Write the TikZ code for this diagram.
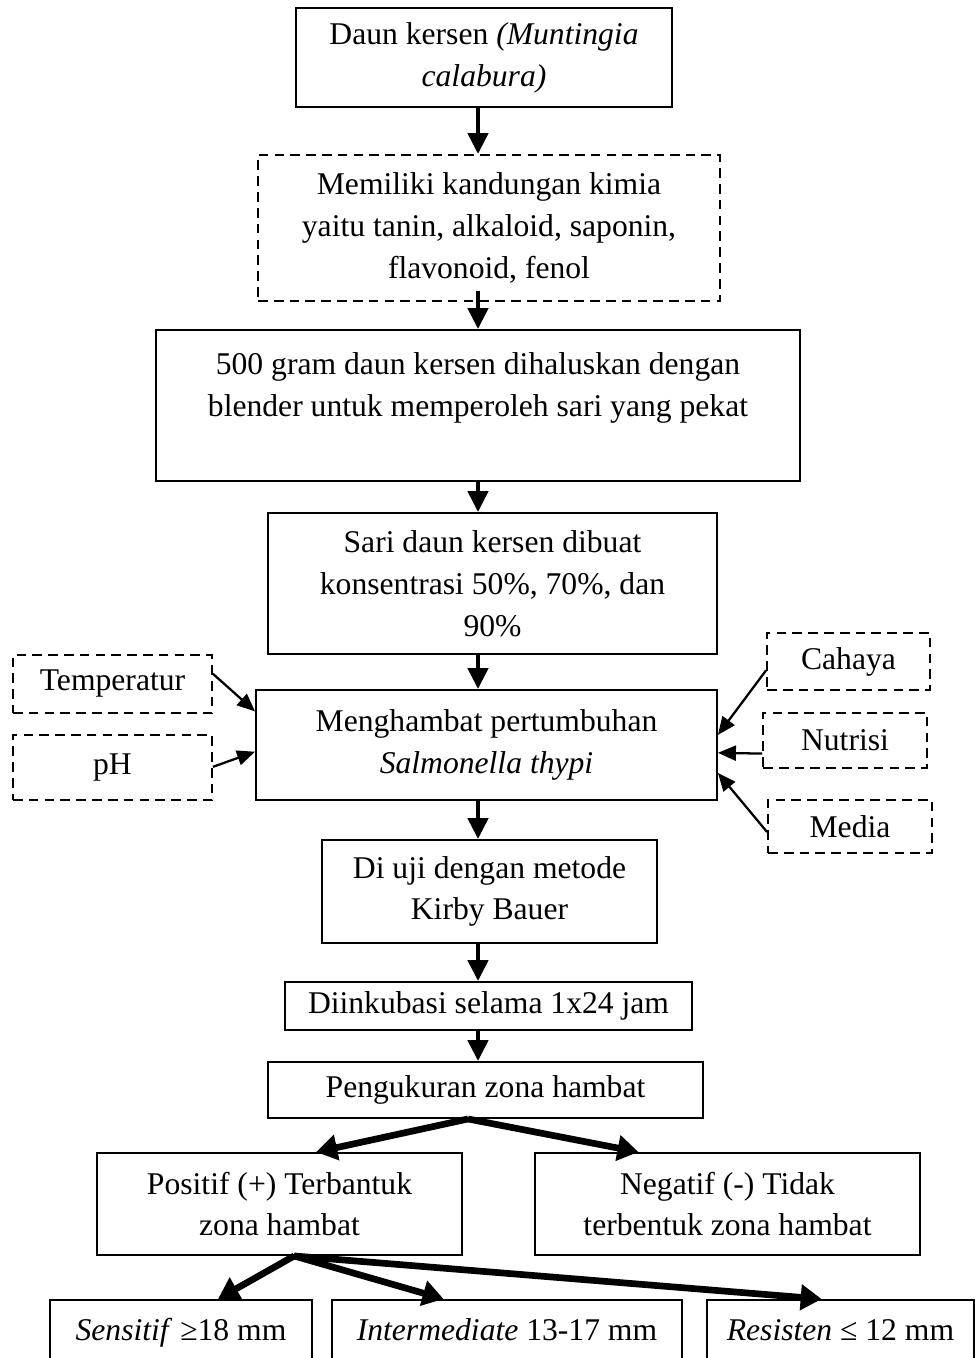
\documentclass[tikz,border=0pt]{standalone}
\usepackage{fontspec}
\setmainfont{Liberation Serif}
\usepackage{tikz}
\usetikzlibrary{shapes,arrows}
\usetikzlibrary{calc}
\usetikzlibrary{arrows.meta}
\tikzset{>=stealth}
\tikzstyle{kotak} = [draw, 
rectangle,
line width=1.1pt,
align=center,
inner sep=0pt]
\tikzstyle{line} = [draw, 
-{Triangle[width=0.4cm,length=0.42cm]}, 
line width=2.6pt]

\begin{document}
\begin{tikzpicture}[x=0.02cm, y=-0.02cm, font=\fontsize{18}{23.8}\selectfont,
	putus/.style={kotak, dash pattern=on 5.5pt off 3.5pt},
	tipis/.style={draw, -{Triangle[width=0.3cm,length=0.36cm]}, line width=1.3pt},
	cabang/.style={line, -{Triangle[width=0.5cm,length=0.42cm]}, line width=3.8pt}]
	\useasboundingbox (0,0) rectangle (974,1358);
	%% Main column
	\node [kotak, minimum width=7.52cm, minimum height=1.98cm] (Daun) at (484,57.5) {\raisebox{-0.1cm}{Daun kersen \textit{(Muntingia}}\\\raisebox{-0.1cm}{\textit{calabura)}}};
	\node [putus, minimum width=9.24cm, minimum height=2.92cm] (Kimia) at (489,228) {Memiliki kandungan kimia\\yaitu tanin, alkaloid, saponin,\\flavonoid, fenol};
	\node [kotak, minimum width=12.88cm, minimum height=3.02cm] (Blender) at (478,405.5) {500 gram daun kersen dihaluskan dengan\\blender untuk memperoleh sari yang pekat\\~};
	\node [kotak, minimum width=8.98cm, minimum height=2.82cm] (Sari) at (492.5,583.5) {Sari daun kersen dibuat\\konsentrasi 50\%, 70\%, dan\\90\%};
	\node [kotak, minimum width=9.22cm, minimum height=2.2cm] (Hambat) at (486.5,745) {Menghambat pertumbuhan\\\textit{Salmonella thypi}};
	\node [kotak, minimum width=6.7cm, minimum height=2.06cm] (Uji) at (489.5,891.5) {Di uji dengan metode\\Kirby Bauer};
	\node [kotak, minimum width=8.14cm, minimum height=0.96cm] (Inkubasi) at (488.5,1006) {\raisebox{-0.16cm}{Diinkubasi selama 1x24 jam}};
	\node [kotak, minimum width=8.7cm, minimum height=1.12cm] (Ukur) at (485.5,1090) {Pengukuran zona hambat};
	%% Factors
	\node [putus, minimum width=3.98cm, minimum height=1.16cm] (Suhu) at (112.5,684) {Temperatur};
	\node [putus, minimum width=3.98cm, minimum height=1.3cm] (PH) at (112.5,767.5) {pH};
	\node [putus, minimum width=3.26cm, minimum height=1.14cm] (Cahaya) at (848.5,661.5) {Cahaya};
	\node [putus, minimum width=3.28cm, minimum height=1.1cm] (Nutrisi) at (845,740.5) {Nutrisi};
	\node [putus, minimum width=3.28cm, minimum height=1.06cm] (Media) at (850,826.5) {Media};
	%% Results
	\node [kotak, minimum width=7.3cm, minimum height=2.04cm] (Positif) at (279.5,1204) {Positif (+) Terbantuk\\zona hambat};
	\node [kotak, minimum width=7.7cm, minimum height=2.04cm] (Negatif) at (727.5,1204) {Negatif (-) Tidak\\terbentuk zona hambat};
	\node [kotak, minimum width=5.24cm, minimum height=1.28cm] (Sensitif) at (181,1332) {\strut\textit{Sensitif} ≥18 mm};
	\node [kotak, minimum width=7cm, minimum height=1.28cm] (Intermediate) at (507,1332) {\strut\textit{Intermediate} 13-17 mm};
	\node [kotak, minimum width=5.34cm, minimum height=1.28cm] (Resisten) at (840.5,1332) {\strut\textit{Resisten} ≤ 12 mm};
	%% Main flow
	\coordinate (poros) at (478,0);
	\path [line] (Daun.south -| poros) -- (Kimia.north -| poros);
	\path [line] ([yshift=0.22cm]Kimia.south -| poros) -- (Blender.north -| poros);
	\path [line] (Blender.south -| poros) -- (Sari.north -| poros);
	\path [line] (Sari.south -| poros) -- (Hambat.north -| poros);
	\path [line] (Hambat.south -| poros) -- (Uji.north -| poros);
	\path [line] (Uji.south -| poros) -- (Inkubasi.north -| poros);
	\path [line] (Inkubasi.south -| poros) -- (Ukur.north -| poros);
	%% Factor arrows
	\path [tipis] ($(Suhu.north east)!0.33!(Suhu.south east)$) -- ($(Hambat.north west)!0.2!(Hambat.south west)$);
	\path [tipis] ($(PH.north east)!0.49!(PH.south east)$) -- ($(Hambat.north west)!0.56!(Hambat.south west)$);
	\path [tipis] ($(Cahaya.north west)!0.65!(Cahaya.south west)$) -- ($(Hambat.north east)!0.41!(Hambat.south east)$);
	\path [tipis] ($(Nutrisi.north west)!0.73!(Nutrisi.south west)$) -- ($(Hambat.north east)!0.57!(Hambat.south east)$);
	\path [tipis] ($(Media.north west)!0.6!(Media.south west)$) -- ($(Hambat.north east)!0.75!(Hambat.south east)$);
	%% Branches
	\path [cabang] ($(Ukur.south west)!0.46!(Ukur.south east)$) -- ($(Positif.north west)!0.6!(Positif.north east)$);
	\path [cabang] ($(Ukur.south west)!0.46!(Ukur.south east)$) -- ($(Negatif.north west)!0.27!(Negatif.north east)$);
	\path [cabang] ($(Positif.south west)!0.54!(Positif.south east)$) -- ($(Sensitif.north west)!0.64!(Sensitif.north east)$);
	\path [cabang] ($(Positif.south west)!0.54!(Positif.south east)$) -- ($(Intermediate.north west)!0.32!(Intermediate.north east)$);
	\path [cabang] ($(Positif.south west)!0.54!(Positif.south east)$) -- ($(Resisten.north west)!0.43!(Resisten.north east)$);
\end{tikzpicture}
\end{document}
